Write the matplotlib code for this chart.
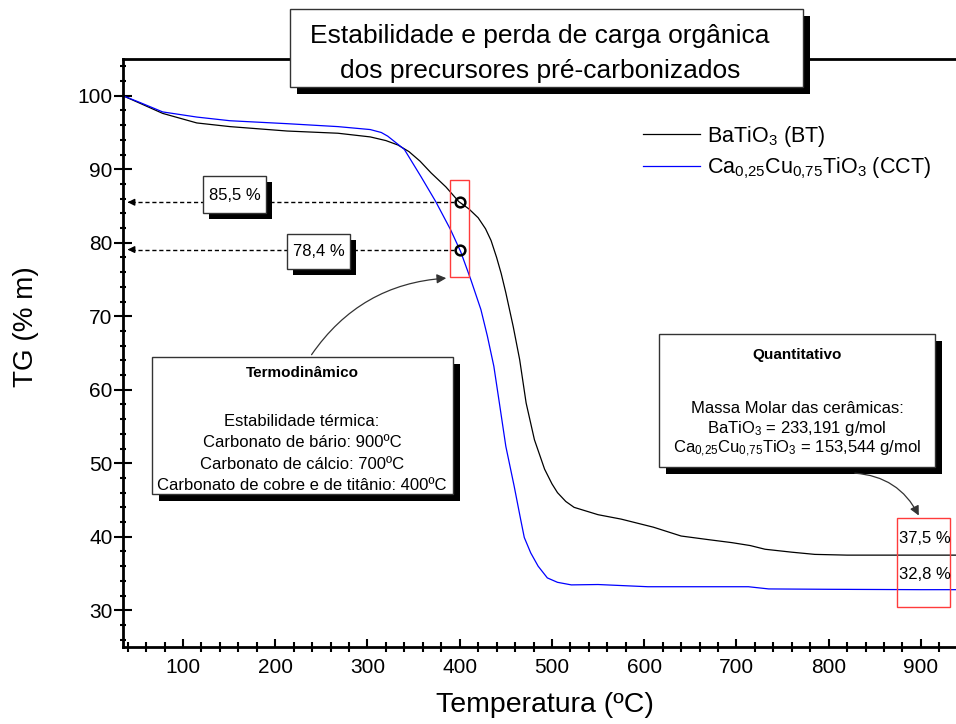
import numpy as np
import matplotlib
matplotlib.use("Agg")
import matplotlib.pyplot as plt
from matplotlib.patches import Rectangle, FancyArrowPatch
from matplotlib.ticker import MultipleLocator

plt.rcParams["font.family"] = ["Liberation Sans", "DejaVu Sans"]
plt.rcParams["mathtext.default"] = "regular"

# TG curves (temperature in ºC, mass in %)
temp_bt = [35, 53, 78, 115, 151, 213, 268, 303, 320, 333, 345, 357, 369, 385,
           399, 410, 420, 428, 434, 440, 445, 450, 458, 465, 472, 481, 492,
           500, 506, 515, 524, 550, 575, 610, 640, 670, 695, 715, 731, 760,
           785, 820, 860, 900, 938]
tg_bt = [100, 99.0, 97.6, 96.3, 95.8, 95.2, 94.9, 94.4, 93.9, 93.3, 92.4, 91.1,
         89.5, 87.6, 85.6, 84.6, 83.4, 81.9, 80.3, 78.0, 75.8, 73.2, 68.6,
         64.1, 58.2, 53.2, 49.2, 47.2, 46.0, 44.8, 44.0, 43.0, 42.4, 41.3,
         40.1, 39.6, 39.2, 38.8, 38.3, 37.9, 37.6, 37.5, 37.5, 37.5, 37.5]

temp_cct = [35, 53, 78, 115, 151, 213, 268, 303, 315, 322, 333, 340, 358, 374,
            390, 401, 412, 423, 430, 437, 443, 450, 459, 466, 470, 477, 485,
            495, 506, 521, 550, 604, 713, 735, 800, 900, 938]
tg_cct = [100, 99.1, 97.8, 97.1, 96.6, 96.2, 95.8, 95.4, 95.0, 94.5, 93.4,
          92.7, 89.0, 85.6, 81.8, 78.8, 75.0, 70.9, 67.3, 63.2, 58.2, 52.3,
          46.9, 42.4, 39.9, 37.8, 36.0, 34.4, 33.8, 33.45, 33.5, 33.2, 33.2,
          32.9, 32.85, 32.8, 32.8]

series_labels = ["BaTiO$_3$ (BT)", "Ca$_{0{,}25}$Cu$_{0{,}75}$TiO$_3$ (CCT)"]
mark_temp = 400
mark_labels = ["85,5 %", "78,4 %"]
final_labels = ["37,5 %", "32,8 %"]

W, H = 956, 724


def fx(x):
    return x / W


def fy(y):
    return 1 - y / H


def shadow_box(fig, x0, y0, x1, y1, off=7):
    w, h = (x1 - x0) / W, (y1 - y0) / H
    fig.add_artist(Rectangle((fx(x0 + off), fy(y1 + off)), w, h,
                             transform=fig.transFigure, facecolor="black",
                             edgecolor="none", zorder=5))
    fig.add_artist(Rectangle((fx(x0), fy(y1)), w, h, transform=fig.transFigure,
                             facecolor="white", edgecolor="#333333", lw=1,
                             zorder=6))


def ftext(fig, x, y, s, **kw):
    kw.setdefault("ha", "center")
    kw.setdefault("va", "baseline")
    fig.text(fx(x), fy(y), s, zorder=7, **kw)


fig = plt.figure(figsize=(W / 100, H / 100), dpi=100)
ax = fig.add_axes([123 / W, 1 - 647 / H, (W - 123) / W, (647 - 59) / H])

ax.plot(temp_bt, tg_bt, color="black", lw=0.9, label=series_labels[0])
ax.plot(temp_cct, tg_cct, color="#0000ff", lw=0.9, label=series_labels[1])

ax.set_xlim(35, 938)
ax.set_ylim(25, 105)
ax.xaxis.set_major_locator(MultipleLocator(100))
ax.xaxis.set_minor_locator(MultipleLocator(20))
ax.yaxis.set_minor_locator(MultipleLocator(2))
ax.set_yticks(np.arange(30, 101, 10))
ax.tick_params(axis="x", which="major", direction="in", length=6, width=1.5,
               labelsize=15, pad=8)
ax.tick_params(axis="x", which="minor", direction="inout", length=6.5, width=1.5)
ax.tick_params(axis="y", which="major", direction="inout", length=13, width=1.5,
               labelsize=15, pad=1)
ax.tick_params(axis="y", which="minor", direction="inout", length=5, width=1.5)
for side in ["left", "bottom", "top"]:
    ax.spines[side].set_linewidth(2)
ax.spines["right"].set_visible(False)

# marked points at 400 ºC with dashed leaders to the y axis
mark_vals = [np.interp(mark_temp, temp_bt, tg_bt),
             np.interp(mark_temp, temp_cct, tg_cct)]
for v in mark_vals:
    ax.plot([mark_temp], [v], "o", ms=7, mfc="none", mec="black", mew=1.8,
            zorder=4)
    ax.plot([44, mark_temp - 6], [v, v], color="black", lw=1,
            linestyle=(0, (3, 2)))
    ax.annotate("", xy=(37, v), xytext=(46, v),
                arrowprops=dict(arrowstyle="-|>", color="black", lw=1,
                                mutation_scale=10))

ax.add_patch(Rectangle((389, 75.3), 21, 13.3, fill=False, edgecolor="#ff3b3b",
                       lw=1, zorder=3))
ax.add_patch(Rectangle((874, 30.4), 57, 12.2, fill=False, edgecolor="#ff3b3b",
                       lw=1, zorder=3))
ax.text(904, 39.8, final_labels[0], ha="center", va="center", fontsize=12)
ax.text(904, 34.9, final_labels[1], ha="center", va="center", fontsize=12)

ax.legend(loc="upper left", bbox_to_anchor=(fx(643), fy(124)),
          bbox_transform=fig.transFigure, frameon=False, fontsize=15.5,
          handlelength=2.65, handletextpad=0.3, labelspacing=0.3,
          borderpad=0, borderaxespad=0)

# title box
shadow_box(fig, 290, 9, 803, 87)
ftext(fig, 540, 43, "Estabilidade e perda de carga orgânica", fontsize=19)
ftext(fig, 540, 78, "dos precursores pré-carbonizados", fontsize=19)

# value label boxes
shadow_box(fig, 203, 176, 266, 213, off=6)
ftext(fig, 234.5, 195, mark_labels[0], va="center", fontsize=12)
shadow_box(fig, 287, 234, 350, 269, off=6)
ftext(fig, 318.5, 252, mark_labels[1], va="center", fontsize=12)

# Termodinâmico box
shadow_box(fig, 152, 357, 453, 494)
ftext(fig, 302, 377, "Termodinâmico", fontsize=11, fontweight="bold")
termo_lines = ["Estabilidade térmica:", "Carbonato de bário: 900ºC",
               "Carbonato de cálcio: 700ºC",
               "Carbonato de cobre e de titânio: 400ºC"]
for yy, s in zip([426, 447, 469, 490], termo_lines):
    ftext(fig, 302, yy, s, fontsize=12)

# Quantitativo box
shadow_box(fig, 659, 334, 935, 467)
ftext(fig, 797, 359, "Quantitativo", fontsize=11, fontweight="bold")
quant_lines = ["Massa Molar das cerâmicas:", "BaTiO$_3$ = 233,191 g/mol",
               "Ca$_{0{,}25}$Cu$_{0{,}75}$TiO$_3$ = 153,544 g/mol"]
for yy, s in zip([413, 433, 453], quant_lines):
    ftext(fig, 797, yy, s, fontsize=12)

# curved arrows
for (x0, y0), (x1, y1), rad in [((310, 357), (449, 278), -0.25),
                                ((852, 473), (920, 518), -0.3)]:
    fig.add_artist(FancyArrowPatch((fx(x0), fy(y0)), (fx(x1), fy(y1)),
                                   transform=fig.transFigure,
                                   connectionstyle=f"arc3,rad={rad}",
                                   arrowstyle="-|>", mutation_scale=14,
                                   color="#333333", lw=0.9, zorder=8))

ftext(fig, 545, 705, "Temperatura (ºC)", va="center", fontsize=20.5)
ftext(fig, 26, 327, "TG (% m)", va="center", rotation=90, fontsize=20)

fig.savefig("out.png", dpi=100)
